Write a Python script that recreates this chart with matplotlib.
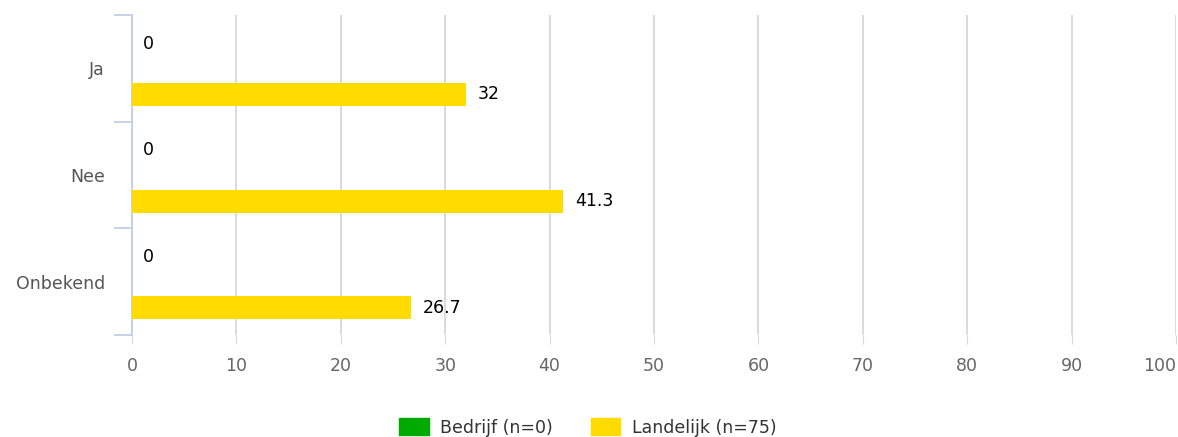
import matplotlib.pyplot as plt
from matplotlib.patches import Patch

plt.rcParams['font.family'] = ['DejaVu Sans']

categories = ['Ja', 'Nee', 'Onbekend']
bedrijf = [0, 0, 0]
landelijk = [32, 41.3, 26.7]
bedrijf_label = 'Bedrijf (n=0)'
landelijk_label = 'Landelijk (n=75)'
xticks = [0, 10, 20, 30, 40, 50, 60, 70, 80, 90, 100]

green = '#00AA00'
yellow = '#FFDB00'
axis_col = '#C0D0E0'
grid_col = '#D8D8D8'
fs = 12.5

fig = plt.figure(figsize=(11.78, 4.37), dpi=100)
ax = fig.add_axes([132 / 1178, 1 - 335 / 437, 1044 / 1178, 320 / 437])

ypos = list(range(len(categories)))
off = 0.245
h = 0.215
ax.barh([y - off for y in ypos], bedrijf, height=h, color=green, zorder=3)
ax.barh([y + off for y in ypos], landelijk, height=h, color=yellow, zorder=3)

def fmt(v):
    return f'{v:g}'

for y, v in zip(ypos, bedrijf):
    ax.annotate(fmt(v), (v, y - off), xytext=(8, -1), textcoords='offset points',
                va='center', ha='left', fontsize=fs, color='black')
for y, v in zip(ypos, landelijk):
    ax.annotate(fmt(v), (v, y + off), xytext=(8.5, 0), textcoords='offset points',
                va='center', ha='left', fontsize=fs, color='black')

ax.set_xlim(0, 100)
ax.set_ylim(len(categories) - 0.5, -0.5)
ax.set_xticks(xticks)
ax.set_xticklabels([str(t) for t in xticks], fontsize=fs, color='#666666')
ax.get_xticklabels()[-1].set_horizontalalignment('right')
ax.tick_params(axis='x', length=6.5, color=grid_col, pad=9)
ax.xaxis.grid(True, color=grid_col, linewidth=1.3, zorder=0)

ax.set_yticks(ypos)
ax.set_yticklabels(categories, fontsize=fs, color='#555555')
ax.tick_params(axis='y', which='major', length=0, pad=19.5)
ax.set_yticks([-0.5, 0.5, 1.5, 2.5], minor=True)
ax.tick_params(axis='y', which='minor', length=13, color=axis_col, width=1.3)

for s in ['top', 'right', 'bottom']:
    ax.spines[s].set_visible(False)
ax.spines['left'].set_color(axis_col)
ax.spines['left'].set_linewidth(1.3)

handles = [Patch(color=green, label=bedrijf_label), Patch(color=yellow, label=landelijk_label)]
fig.legend(handles=handles, loc='lower center', bbox_to_anchor=(0.499, -0.035), ncol=2,
           frameon=False, fontsize=fs, handlelength=1.7, handleheight=1.1,
           handletextpad=0.65, columnspacing=2.2, labelcolor='#333333')

fig.savefig('out.png', dpi=100)
